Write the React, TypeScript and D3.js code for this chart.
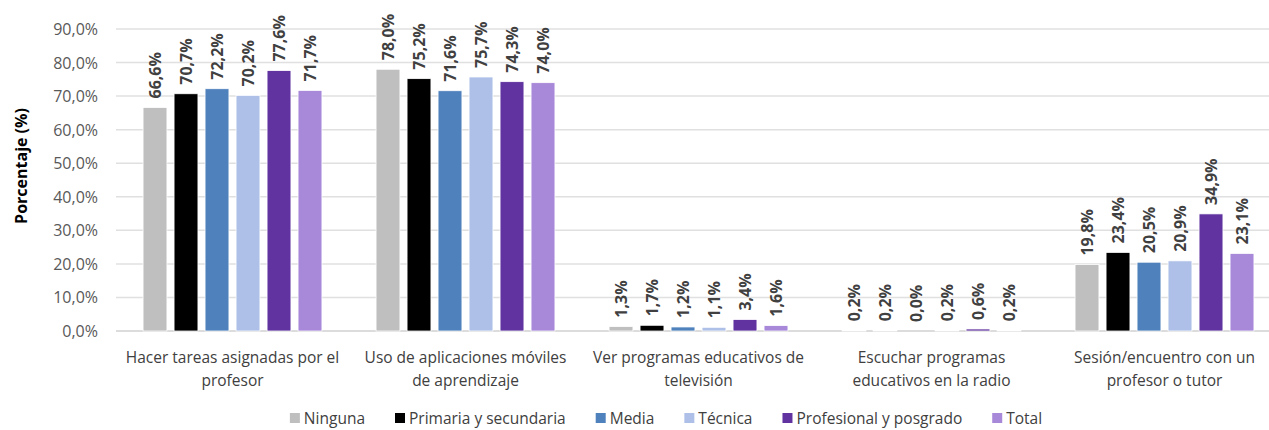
import React from "react";
import * as d3 from "d3";

const categories = [
  ["Hacer tareas asignadas por el", "profesor"],
  ["Uso de aplicaciones móviles", "de aprendizaje"],
  ["Ver programas educativos de", "televisión"],
  ["Escuchar programas", "educativos en la radio"],
  ["Sesión/encuentro con un", "profesor o tutor"],
];

const seriesNames = [
  "Ninguna",
  "Primaria y secundaria",
  "Media",
  "Técnica",
  "Profesional y posgrado",
  "Total",
];

const seriesColors = ["#BFBFBF", "#000000", "#4F81BD", "#AEC0E8", "#6033A0", "#A888D9"];

// values per series, one per category (percent)
const ninguna = [66.6, 78.0, 1.3, 0.2, 19.8];
const primaria = [70.7, 75.2, 1.7, 0.2, 23.4];
const media = [72.2, 71.6, 1.2, 0.0, 20.5];
const tecnica = [70.2, 75.7, 1.1, 0.2, 20.9];
const profesional = [77.6, 74.3, 3.4, 0.6, 34.9];
const total = [71.7, 74.0, 1.6, 0.2, 23.1];

const seriesValues = [ninguna, primaria, media, tecnica, profesional, total];

const yTicks = [0, 10, 20, 30, 40, 50, 60, 70, 80, 90];

const FONT = "'Open Sans', 'Noto Sans', sans-serif";

const locale = d3.formatLocale({
  decimal: ",",
  thousands: ".",
  grouping: [3],
  currency: ["", "€"],
});
const fmt = (v: number) => locale.format(".1f")(v) + "%";

const measure = (() => {
  let ctx: CanvasRenderingContext2D | null = null;
  return (txt: string, font: string) => {
    if (!ctx) ctx = document.createElement("canvas").getContext("2d");
    if (!ctx) return txt.length * 8;
    ctx.font = font;
    return ctx.measureText(txt).width;
  };
})();

export default function App() {
  const width = 1269;
  const height = 430;
  const left = 116;
  const right = 1281;
  const top = 29;
  const bottom = 331;

  const x0 = d3
    .scaleBand<number>()
    .domain(d3.range(categories.length))
    .range([left, right]);

  const x1 = d3
    .scaleBand<number>()
    .domain(d3.range(seriesNames.length))
    .range([23.5, x0.bandwidth() - 23.5])
    .paddingInner(0.23)
    .paddingOuter(0.115);

  const y = d3.scaleLinear().domain([0, 90]).range([bottom, top]);

  // legend layout
  const legendFont = `15.5px ${FONT}`;
  const sq = 10;
  const gapText = 4;
  const gapItem = 30;
  const widths = seriesNames.map((n) => sq + gapText + measure(n, legendFont));
  const legendTotal = d3.sum(widths) + gapItem * (widths.length - 1);
  const legendCenter = 666;
  let lx = legendCenter - legendTotal / 2;
  const legendPos = widths.map((w) => {
    const p = lx;
    lx += w + gapItem;
    return p;
  });

  return (
    <svg
      width={width}
      height={height}
      style={{ position: "absolute", left: 0, top: 0, background: "#fff" }}
      fontFamily={FONT}
    >
      {/* gridlines */}
      {yTicks.map((t) => (
        <g key={t}>
          <line
            x1={left}
            x2={right}
            y1={y(t)}
            y2={y(t)}
            stroke={t === 0 ? "#D0D0D0" : "#E0E0E0"}
            strokeWidth={1.5}
          />
          <text
            x={98}
            y={y(t)}
            textAnchor="end"
            dominantBaseline="central"
            fontSize={16}
            fill="#595959"
          >
            {fmt(t)}
          </text>
        </g>
      ))}

      <text
        transform={`translate(21,166) rotate(-90)`}
        textAnchor="middle"
        dominantBaseline="central"
        fontSize={16}
        fontWeight="bold"
        fill="#000"
      >
        Porcentaje (%)
      </text>

      {/* bars */}
      {categories.map((c, ci) => (
        <g key={ci} transform={`translate(${x0(ci)},0)`}>
          {seriesValues.map((vals, si) => {
            const v = vals[ci];
            const bx = x1(si) as number;
            const bw = x1.bandwidth();
            const cx = bx + bw / 2;
            return (
              <g key={si}>
                <rect
                  x={bx}
                  y={y(v)}
                  width={bw}
                  height={Math.max(0, y(0) - y(v))}
                  fill={seriesColors[si]}
                  stroke="#fff"
                  strokeWidth={0.75}
                />
                <text
                  transform={`translate(${cx},${y(v) - 9}) rotate(-90)`}
                  dominantBaseline="central"
                  fontSize={16}
                  fontWeight="bold"
                  fill="#404040"
                >
                  {fmt(v)}
                </text>
              </g>
            );
          })}
          {c.map((line, li) => (
            <text
              key={li}
              x={x0.bandwidth() / 2}
              y={357 + li * 23}
              textAnchor="middle"
              dominantBaseline="central"
              fontSize={15.5}
              fill="#404040"
            >
              {line}
            </text>
          ))}
        </g>
      ))}

      {/* legend */}
      {seriesNames.map((n, i) => (
        <g key={n} transform={`translate(${legendPos[i]},418)`}>
          <rect x={0} y={-sq / 2} width={sq} height={sq} fill={seriesColors[i]} />
          <text
            x={sq + gapText}
            y={0}
            dominantBaseline="central"
            fontSize={15.5}
            fill="#404040"
          >
            {n}
          </text>
        </g>
      ))}
    </svg>
  );
}
